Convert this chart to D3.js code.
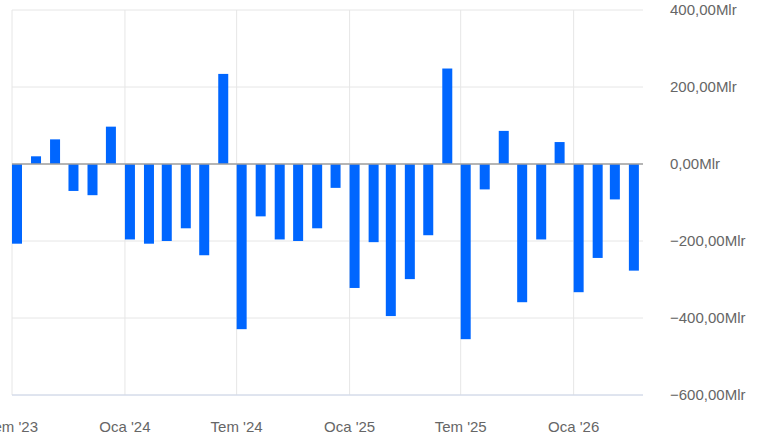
<!DOCTYPE html>
<html>
<head>
<meta charset="utf-8">
<script src="https://cdn.jsdelivr.net/npm/d3@7"></script>
<style>
  body { margin: 0; background: white; }
  svg { display: block; font-family: "Liberation Sans", Arial, sans-serif; }
</style>
</head>
<body>
<svg id="chart"></svg>
<script>
// monthly values (Mlr), Jul 2023 .. Apr 2026
var months = ["2023-07","2023-08","2023-09","2023-10","2023-11","2023-12",
  "2024-01","2024-02","2024-03","2024-04","2024-05","2024-06",
  "2024-07","2024-08","2024-09","2024-10","2024-11","2024-12",
  "2025-01","2025-02","2025-03","2025-04","2025-05","2025-06",
  "2025-07","2025-08","2025-09","2025-10","2025-11","2025-12",
  "2026-01","2026-02","2026-03","2026-04"];

var values = [-207, 20, 64, -70, -81, 97,
  -196, -207, -200, -167, -237, 234,
  -429, -136, -196, -200, -167, -62,
  -322, -203, -395, -299, -185, 248,
  -455, -66, 86, -359, -196, 57,
  -333, -244, -92, -277];

var tickDates = ["2023-07","2024-01","2024-07","2025-01","2025-07","2026-01"];
var tickLabels = ["Tem '23","Oca '24","Tem '24","Oca '25","Tem '25","Oca '26"];

var yTicks = [400, 200, 0, -200, -400, -600];

var W = 765, H = 441;
var margin = {left: 12, right: 122, top: 10, bottom: 46};

var parse = d3.timeParse("%Y-%m");
var data = months.map((m, i) => ({date: parse(m), value: values[i]}));

var svg = d3.select("#chart").attr("width", W).attr("height", H);

var x = d3.scaleTime()
    .domain([parse("2023-07"), new Date(2026, 3, 24)])
    .range([margin.left, W - margin.right]);

var y = d3.scaleLinear()
    .domain([-600, 400])
    .range([H - margin.bottom, margin.top]);

// horizontal grid
svg.append("g").selectAll("line")
  .data(yTicks)
  .enter().append("line")
    .attr("x1", margin.left).attr("x2", W - margin.right)
    .attr("y1", d => y(d)).attr("y2", d => y(d))
    .style("stroke", "#e6e6e6").style("stroke-width", 1);

// vertical grid
svg.append("g").selectAll("line")
  .data(tickDates)
  .enter().append("line")
    .attr("x1", d => x(parse(d))).attr("x2", d => x(parse(d)))
    .attr("y1", margin.top).attr("y2", H - margin.bottom)
    .style("stroke", "#e6e6e6").style("stroke-width", 1);

// bottom axis line
svg.append("line")
  .attr("x1", margin.left).attr("x2", W - margin.right)
  .attr("y1", y(-600)).attr("y2", y(-600))
  .style("stroke", "#ccd6eb").style("stroke-width", 1);

var barW = 10;

svg.append("g").selectAll("rect")
  .data(data)
  .enter().append("rect")
    .attr("x", d => x(d.date))
    .attr("y", d => y(Math.max(0, d.value)))
    .attr("width", barW)
    .attr("height", d => Math.abs(y(d.value) - y(0)))
    .style("fill", "#0066ff");

// zero line
svg.append("line")
  .attr("x1", margin.left).attr("x2", W - margin.right)
  .attr("y1", y(0)).attr("y2", y(0))
  .style("stroke", "#a0a0a0").style("stroke-width", 1.5);

// y labels on the right
svg.append("g").selectAll("text")
  .data(yTicks)
  .enter().append("text")
    .attr("x", 670)
    .attr("y", d => y(d))
    .attr("dy", "0.35em")
    .style("font-size", "15px")
    .style("fill", "#666")
    .text(d => d3.format(".2f")(d).replace(".", ",") + "Mlr");

// x labels
svg.append("g").selectAll("text")
  .data(tickDates)
  .enter().append("text")
    .attr("x", d => x(parse(d)))
    .attr("y", 432)
    .attr("text-anchor", "middle")
    .style("font-size", "15px")
    .style("fill", "#666")
    .text((d, i) => tickLabels[i]);
</script>
</body>
</html>
